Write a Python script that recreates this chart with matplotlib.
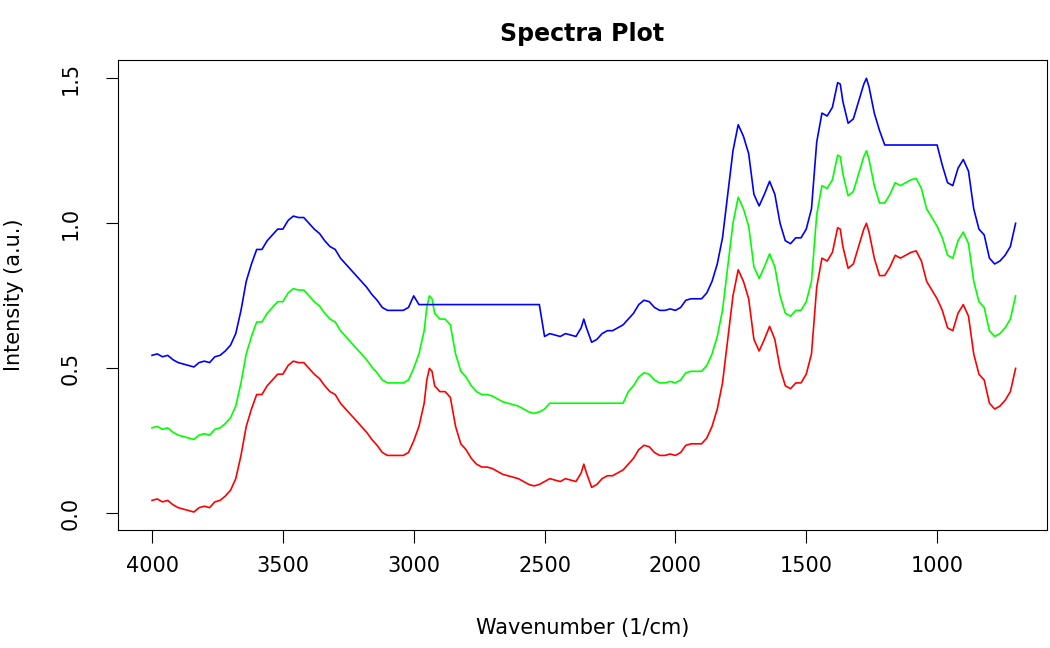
import numpy as np
import matplotlib
matplotlib.use("Agg")
import matplotlib.pyplot as plt

wn = [4000,3980,3960,3940,3920,3900,3880,3860,3840,3820,3800,3780,3760,3740,3720,3700,3680,3660,3640,3620,3600,3580,3560,3540,3520,3500,3480,3460,3440,3420,3400,3380,3360,3340,3320,3300,3280,3260,3240,3220,3200,3180,3160,3140,3120,3100,3080,3060,3040,3020,3000,2980,2960,2950,2940,2930,2920,2900,2880,2860,2840,2820,2800,2780,2760,2740,2720,2700,2680,2660,2640,2620,2600,2580,2560,2540,2520,2500,2480,2460,2440,2420,2400,2380,2360,2350,2340,2320,2300,2280,2260,2240,2220,2200,2180,2160,2140,2120,2100,2080,2060,2040,2020,2000,1980,1960,1940,1920,1900,1880,1860,1840,1820,1800,1780,1760,1740,1720,1700,1680,1660,1640,1620,1600,1580,1560,1540,1520,1500,1480,1460,1440,1420,1400,1380,1370,1360,1340,1320,1300,1280,1270,1260,1240,1220,1200,1180,1160,1140,1120,1100,1080,1060,1040,1020,1000,980,960,940,920,900,880,860,840,820,800,780,760,740,720,700]
red = [0.045,0.05,0.04,0.045,0.03,0.02,0.015,0.01,0.005,0.02,0.025,0.02,0.04,0.045,0.06,0.08,0.12,0.2,0.3,0.36,0.41,0.41,0.44,0.46,0.48,0.48,0.51,0.525,0.52,0.52,0.5,0.48,0.465,0.44,0.42,0.41,0.38,0.36,0.34,0.32,0.3,0.28,0.255,0.235,0.21,0.2,0.2,0.2,0.2,0.21,0.25,0.3,0.38,0.46,0.5,0.49,0.44,0.42,0.42,0.4,0.3,0.24,0.22,0.19,0.17,0.16,0.16,0.155,0.145,0.135,0.13,0.125,0.12,0.11,0.1,0.095,0.1,0.11,0.12,0.115,0.11,0.12,0.115,0.11,0.14,0.17,0.14,0.09,0.1,0.12,0.13,0.13,0.14,0.15,0.17,0.19,0.22,0.235,0.23,0.21,0.2,0.2,0.205,0.2,0.21,0.235,0.24,0.24,0.24,0.26,0.3,0.36,0.45,0.6,0.75,0.84,0.8,0.74,0.6,0.56,0.6,0.645,0.6,0.5,0.44,0.43,0.45,0.45,0.48,0.55,0.78,0.88,0.87,0.9,0.985,0.98,0.92,0.845,0.86,0.92,0.98,1.0,0.97,0.88,0.82,0.82,0.85,0.89,0.88,0.89,0.9,0.905,0.87,0.8,0.77,0.74,0.7,0.64,0.63,0.69,0.72,0.68,0.55,0.48,0.46,0.38,0.36,0.37,0.39,0.42,0.5]
green_offset = 0.25
green_flat = (2490, 2200, 0.38)
blue_offset = 0.5
blue_flats = [(2990, 2510, 0.72), (1200, 1000, 1.27)]

x = np.array(wn, float)
r = np.array(red)
g = r + green_offset
g = np.where((x <= green_flat[0]) & (x >= green_flat[1]), green_flat[2], g)
b = r + blue_offset
for hi, lo, v in blue_flats:
    b = np.where((x <= hi) & (x >= lo), v, b)

fig = plt.figure(figsize=(10.5, 6.48), dpi=100)
ax = fig.add_axes([118/1050, 1-530/648, (1047-118)/1050, (530-60)/648])
ax.plot(x, r, color='red', lw=1.2)
ax.plot(x, g, color='#00ff00', lw=1.2)
ax.plot(x, b, color='blue', lw=1.2)
ax.set_xlim(4130, 580)
ax.set_ylim(-0.057, 1.563)
ax.set_xticks([4000,3500,3000,2500,2000,1500,1000])
ax.set_yticks([0.0,0.5,1.0,1.5])
ax.set_yticklabels(['0.0','0.5','1.0','1.5'], rotation=90, va='center')
ax.tick_params(labelsize=15, length=9)
ax.tick_params(axis='x', pad=10)
ax.tick_params(axis='y', pad=18)
ax.set_xlabel('Wavenumber (1/cm)', fontsize=15, labelpad=30)
ax.set_ylabel('Intensity (a.u.)', fontsize=15, labelpad=26)
ax.set_title('Spectra Plot', fontsize=17, fontweight='bold', pad=14)
fig.savefig('out.png')
